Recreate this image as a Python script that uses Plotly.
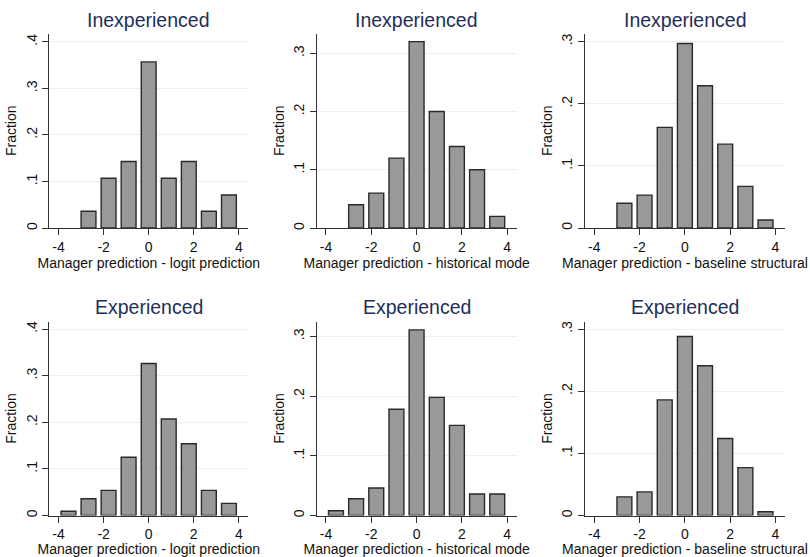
import plotly.graph_objs as go
from plotly.subplots import make_subplots

# histogram bins: 9 bins of width 8/9 between -4 and 4
bin_centers = [-3.56, -2.67, -1.78, -0.89, 0.0, 0.89, 1.78, 2.67, 3.56]

x_ticks = [-4, -2, 0, 2, 4]
x_tick_text = ['-4', '-2', '0', '2', '4']

# fraction of managers per bin
inexp_logit = [0.0, 0.036, 0.107, 0.143, 0.357, 0.107, 0.143, 0.036, 0.071]
inexp_hist = [0.0, 0.04, 0.06, 0.12, 0.32, 0.20, 0.14, 0.10, 0.02]
inexp_struct = [0.0, 0.040, 0.053, 0.162, 0.297, 0.229, 0.135, 0.067, 0.013]
exp_logit = [0.009, 0.036, 0.054, 0.125, 0.326, 0.207, 0.154, 0.054, 0.026]
exp_hist = [0.008, 0.028, 0.046, 0.178, 0.311, 0.198, 0.151, 0.036, 0.036]
exp_struct = [0.0, 0.030, 0.038, 0.186, 0.288, 0.241, 0.124, 0.077, 0.006]

titles = ['Inexperienced', 'Inexperienced', 'Inexperienced',
          'Experienced', 'Experienced', 'Experienced']
x_titles = ['Manager prediction - logit prediction',
            'Manager prediction - historical mode',
            'Manager prediction - baseline structural'] * 2
y_tick_vals = [[0, 0.1, 0.2, 0.3, 0.4], [0, 0.1, 0.2, 0.3], [0, 0.1, 0.2, 0.3]] * 2
y_tick_text = [['0', '.1', '.2', '.3', '.4'], ['0', '.1', '.2', '.3'], ['0', '.1', '.2', '.3']] * 2
y_tops = [0.418, 0.334, 0.313, 0.416, 0.325, 0.312]

series = [inexp_logit, inexp_hist, inexp_struct, exp_logit, exp_hist, exp_struct]

W, H = 810, 557
# plot area edges in pixels (left, right) per column, (top, bottom) per row
col_px = [(49.3, 248.3), (316.7, 516.7), (585, 785)]
row_px = [(32.7, 228.3), (322.3, 517.3)]
title_px = [19, 308]

fig = make_subplots(rows=2, cols=3)

title_col = '#1e2f5a'
text_col = '#111111'
font = 'Liberation Sans, Arial, sans-serif'

annotations = []
for k, vals in enumerate(series):
    r, c = k // 3, k % 3
    # empty bins get no outline (stata draws nothing there)
    edge_w = [0 if v == 0 else 1.4 for v in vals]
    fig.add_trace(go.Bar(x=bin_centers, y=vals,
                         marker=dict(color='#999999',
                                     line=dict(color='#2a2a2a', width=edge_w)),
                         showlegend=False),
                  row=r + 1, col=c + 1)
    x0, x1 = col_px[c]
    y0, y1 = row_px[r]
    fig.update_xaxes(domain=[x0 / W, x1 / W], range=[-4.41, 4.42],
                     tickvals=x_ticks, ticktext=x_tick_text,
                     ticks='outside', ticklen=6,
                     tickcolor='#333333', showline=True, linecolor='#333333',
                     linewidth=1, showgrid=False, zeroline=False,
                     tickfont=dict(size=14, color=text_col, family=font),
                     title=dict(text=x_titles[k], standoff=1,
                                font=dict(size=14, color=text_col, family=font)),
                     row=r + 1, col=c + 1)
    fig.update_yaxes(domain=[1 - y1 / H, 1 - y0 / H], range=[0, y_tops[k]],
                     tickvals=y_tick_vals[k], ticktext=y_tick_text[k],
                     tickangle=-90, ticks='outside', ticklen=6,
                     tickcolor='#333333', showline=True, linecolor='#333333',
                     linewidth=1, showgrid=True, gridcolor='#e9f0f1',
                     gridwidth=1, zeroline=False,
                     tickfont=dict(size=14, color=text_col, family=font),
                     title=dict(text='Fraction', standoff=3,
                                font=dict(size=14, color=text_col, family=font)),
                     row=r + 1, col=c + 1)
    annotations.append(dict(text=titles[k], xref='paper', yref='paper',
                            x=(x0 + x1) / 2 / W, y=1 - title_px[r] / H,
                            xanchor='center', yanchor='middle', showarrow=False,
                            font=dict(size=19.5, color=title_col, family=font)))

fig.update_layout(width=W, height=H, margin=dict(l=0, r=0, t=0, b=0),
                  paper_bgcolor='white', plot_bgcolor='white',
                  bargap=0.26, annotations=annotations)

# page body has a default margin; drop it so the figure fills the window
fig.write_html('out.html', config={'displayModeBar': False},
               post_script="document.body.style.margin='0px';")
